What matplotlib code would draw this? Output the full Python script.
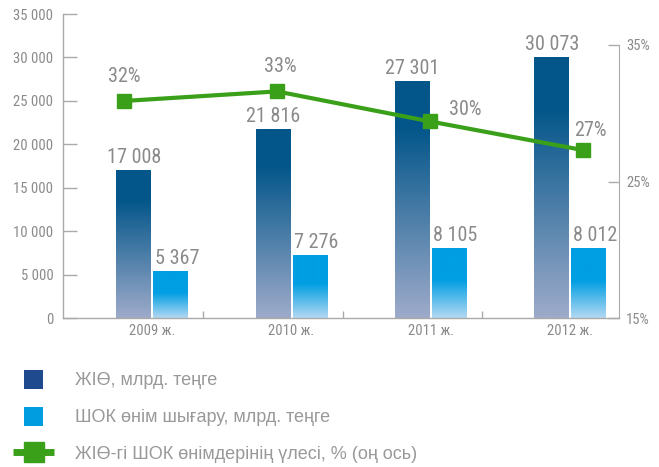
import numpy as np
import matplotlib
matplotlib.use("Agg")
from matplotlib import pyplot as plt
from matplotlib import font_manager as fm
from matplotlib.patches import Rectangle, Patch
from matplotlib.lines import Line2D
from matplotlib.legend_handler import HandlerPatch
from matplotlib.colors import to_rgb

# Data
years = ["2009 ж.", "2010 ж.", "2011 ж.", "2012 ж."]
gdp = [17008, 21816, 27301, 30073]            # ЖІӨ, млрд. теңге
sme = [5367, 7276, 8105, 8012]                # ШОК өнім шығару, млрд. теңге
share = [30.9, 31.6, 29.4, 27.3]              # plotted position of the line, %
share_labels = ["32%", "33%", "30%", "27%"]   # labels as printed on the chart

legend_labels = [
    "ЖІӨ, млрд. теңге",
    "ШОК өнім шығару, млрд. теңге",
    "ЖІӨ-гі ШОК өнімдерінің үлесі, % (оң ось)",
]

GRAY = "#8a8a8a"
SPINE = "#aaaaaa"
GREEN = "#3aa01a"


# Pick a narrow font for the numbers if one is around
def narrow_font():
    names = {f.name for f in fm.fontManager.ttflist}
    for n in ("Liberation Sans Narrow", "Roboto Condensed", "Noto Sans Condensed",
              "Open Sans Condensed", "DejaVu Sans Condensed"):
        if n in names:
            return fm.FontProperties(family=n)
    for fam in ("Noto Sans", "Open Sans", "Roboto", "DejaVu Sans"):
        for f in fm.fontManager.ttflist:
            if f.name == fam and "condensed" in str(f.stretch).lower() \
                    or (f.name == fam and "Condensed" in f.fname):
                return fm.FontProperties(fname=f.fname)
    return fm.FontProperties(family=["Liberation Sans", "DejaVu Sans"])


NUM_FP = narrow_font()
TXT_FONT = ["Liberation Sans", "DejaVu Sans"]


def fmt(v):
    return f"{v:,}".replace(",", " ")


def num_font(size):
    fp = NUM_FP.copy()
    fp.set_size(size)
    return fp


# Vertical gradient inside a bar: solid on top, fading toward the bottom
def gradient_fill(ax, rect, top, bottom, solid_part):
    n = 256
    t = np.linspace(0, 1, n)
    k = np.clip((t - solid_part) / (1 - solid_part), 0, 1)[:, None]
    c0 = np.array(to_rgb(top))
    c1 = np.array(to_rgb(bottom))
    img = (c0 * (1 - k) + c1 * k)[:, None, :]
    x0 = rect.get_x()
    h = rect.get_height()
    im = ax.imshow(img, extent=(x0, x0 + rect.get_width(), 0, h),
                   aspect="auto", origin="upper", zorder=rect.get_zorder(),
                   interpolation="bilinear")
    im.set_clip_path(rect)


fig = plt.figure(figsize=(6.59, 4.67), dpi=100)
rect_ax = [63 / 659, 1 - 318 / 467, 556 / 659, 304 / 467]
ax = fig.add_axes(rect_ax)

x = np.arange(len(years))
w = 0.25
off = 0.133
bars1 = ax.bar(x - off, gdp, w, color="none", linewidth=0, zorder=2)
bars2 = ax.bar(x + off, sme, w, color="none", linewidth=0, zorder=2)
for r in bars1:
    gradient_fill(ax, r, "#03568a", "#9eabca", 0.2)
for r in bars2:
    gradient_fill(ax, r, "#009ee2", "#b3d9f3", 0.46)

# value labels; the light-bar labels sit a little to the right
for xs, vals, dx in ((x - off, gdp, 0), (x + off, sme, 4.5)):
    for xi, v in zip(xs, vals):
        ax.annotate(fmt(v), (xi, v), xytext=(dx, 5), textcoords="offset points",
                    ha="center", va="baseline", fontproperties=num_font(14.5),
                    color=GRAY)

ax.set_xlim(-0.64, 3.35)
ax.set_ylim(0, 35000)
ax.set_yticks(np.arange(0, 35001, 5000))
ax.set_yticklabels([fmt(v) for v in range(0, 35001, 5000)])
ax.set_xticks(x)
ax.set_xticklabels(years)
ax.set_xticks(x[:-1] + 0.366, minor=True)
ax.tick_params(axis="y", direction="in", length=10, width=1, color=SPINE,
               pad=7, labelcolor=GRAY)
ax.tick_params(axis="x", which="major", length=0, pad=4, labelcolor=GRAY)
ax.tick_params(axis="x", which="minor", direction="in", length=5, width=1,
               color=SPINE)
for lbl in ax.get_xticklabels() + ax.get_yticklabels():
    lbl.set_fontproperties(num_font(10.5))
for s in ("top", "right"):
    ax.spines[s].set_visible(False)
for s in ("left", "bottom"):
    ax.spines[s].set_color(SPINE)
    ax.spines[s].set_linewidth(1)

# Right axis for the percentage
ax2 = ax.twinx()
ax2.set_ylim(15, 15 + 20 * 304 / 273)
ax2.set_yticks([15, 25, 35])
ax2.set_yticklabels(["15%", "25%", "35%"])
ax2.spines["right"].set_bounds(15, 35)
ax2.spines["right"].set_color(SPINE)
for s in ("top", "left", "bottom"):
    ax2.spines[s].set_visible(False)
ax2.tick_params(axis="y", direction="in", length=8, width=1, color=SPINE,
                pad=5, labelcolor=GRAY)
for lbl in ax2.get_yticklabels():
    lbl.set_fontproperties(num_font(10.5))

# Line sits on its own x positions, drawn above the bars
ax3 = fig.add_axes(rect_ax, sharey=ax2)
ax3.set_xlim(-0.399, 3.235)
ax3.axis("off")
ax3.patch.set_visible(False)
ax3.plot(np.arange(len(share)), share, color=GREEN, lw=3, marker="s",
         markersize=10.5, markeredgecolor=GREEN, zorder=5)
label_offsets = [(0, 13.7), (2.5, 13.7), (25, 4.3), (5.4, 10)]
for i, (v, t) in enumerate(zip(share, share_labels)):
    ax3.annotate(t, (i, v), xytext=label_offsets[i], textcoords="offset points",
                 ha="center", va="baseline", fontproperties=num_font(14.5),
                 color=GRAY)


# Legend: square swatches for the bars, line+marker for the share
def square(legend, orig_handle, xdescent, ydescent, width, height, fontsize):
    return Rectangle((-xdescent + (width - height) / 2, -ydescent), height, height)


handles = [
    Patch(facecolor="#1f4a8e"),
    Patch(facecolor="#009ee0"),
    Line2D([], [], color=GREEN, lw=5, marker="s", markersize=14,
           markeredgecolor=GREEN, solid_capstyle="butt"),
]
leg = fig.legend(handles, legend_labels, loc="upper left",
                 bbox_to_anchor=(13 / 659, 1 - 370 / 467), frameon=False,
                 prop={"family": TXT_FONT, "size": 13}, labelcolor="#999999",
                 handlelength=2.28, handleheight=1.22, handletextpad=1.17,
                 labelspacing=0.97, borderpad=0, borderaxespad=0,
                 handler_map={Patch: HandlerPatch(patch_func=square)})

fig.savefig("out.png", dpi=100)
